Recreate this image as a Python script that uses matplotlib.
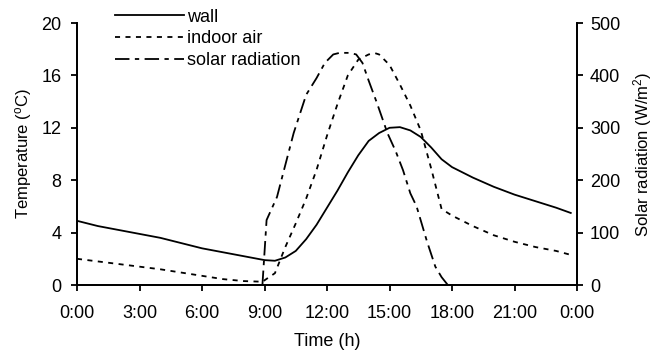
import matplotlib
matplotlib.use("Agg")
import matplotlib.pyplot as plt
from matplotlib.lines import Line2D

plt.rcParams["font.family"] = ["Liberation Sans", "DejaVu Sans"]
plt.rcParams["mathtext.fontset"] = "custom"
plt.rcParams["mathtext.rm"] = "Liberation Sans"
plt.rcParams["mathtext.it"] = "Liberation Sans"

# hours of day and readings
wall_t = [0, 1, 2, 3, 4, 5, 6, 7, 8, 9, 9.5, 10, 10.5, 11, 11.5, 12, 12.5, 13,
          13.5, 14, 14.5, 15, 15.5, 16, 16.5, 17, 17.5, 18, 19, 20, 21, 22, 23, 23.7]
wall_temp = [4.9, 4.5, 4.2, 3.9, 3.6, 3.2, 2.8, 2.5, 2.2, 1.9, 1.85, 2.1, 2.6, 3.5,
             4.6, 5.9, 7.2, 8.6, 9.9, 11.0, 11.6, 12.0, 12.05, 11.8, 11.3, 10.5,
             9.6, 9.0, 8.2, 7.5, 6.9, 6.4, 5.9, 5.5]

air_t = [0, 1, 2, 3, 4, 5, 6, 7, 8, 8.9, 9.5, 10, 10.5, 11, 11.5, 12, 12.5, 13,
         13.5, 14, 14.3, 14.5, 15, 15.5, 16, 16.5, 17, 17.5, 18, 19, 20, 21, 22, 23, 23.7]
air_temp = [2.0, 1.8, 1.6, 1.4, 1.2, 0.95, 0.7, 0.45, 0.3, 0.25, 0.9, 2.9, 4.7, 6.6,
            8.8, 11.4, 13.8, 16.0, 17.2, 17.6, 17.7, 17.6, 16.8, 15.3, 13.7, 11.8,
            8.9, 5.8, 5.3, 4.5, 3.8, 3.3, 2.9, 2.6, 2.3]

sun_t = [8.9, 9.1, 9.6, 9.9, 10.4, 11.0, 11.5, 11.9, 12.3, 12.6, 13.1, 13.4, 13.7,
         14.0, 14.4, 14.9, 15.3, 15.65, 16.0, 16.3, 16.8, 17.2, 17.5, 17.8]
sun_rad = [0, 124, 168, 214, 290, 363, 395, 424, 440, 443, 443, 440, 424, 390,
           347, 290, 255, 219, 175, 150, 83, 35, 15, 0]

xticks = [0, 3, 6, 9, 12, 15, 18, 21, 24]
xlabels = ["0:00", "3:00", "6:00", "9:00", "12:00", "15:00", "18:00", "21:00", "0:00"]

fs = 13
fig = plt.figure(figsize=(6.55, 3.52), dpi=100)
ax = fig.add_axes([77 / 655, 1 - 285 / 352, 500 / 655, 262 / 352])
ax2 = ax.twinx()

lw = 1.3
dot = (0, (2.8, 3))
dashdot = (0, (8, 3, 2.4, 3))
ax.plot(wall_t, wall_temp, color="black", lw=lw)
ax.plot(air_t, air_temp, color="black", lw=lw, linestyle=dot)
ax2.plot(sun_t, sun_rad, color="black", lw=lw, linestyle=dashdot)

ax.set_xlim(0, 24)
ax.set_ylim(0, 20)
ax2.set_ylim(0, 500)
ax.set_xticks(xticks)
ax.set_xticklabels(xlabels)
ax.set_yticks(range(0, 21, 4))
ax2.set_yticks(range(0, 501, 100))

for a in (ax, ax2):
    a.spines["top"].set_visible(False)
    for s in a.spines.values():
        s.set_linewidth(1.3)
    a.tick_params(direction="out", length=4.3, width=1.3, labelsize=fs)
ax.tick_params(axis="x", pad=10)
ax.tick_params(axis="y", pad=7)
ax2.tick_params(axis="y", pad=5)

ax.set_xlabel("Time (h)", fontsize=fs, labelpad=8)
ax.set_ylabel(r"Temperature ($^\mathrm{o}$C)", fontsize=12, labelpad=5)
ax2.set_ylabel(r"Solar radiation (W/m$^2$)", fontsize=12, labelpad=8)

handles = [
    Line2D([], [], color="black", lw=lw),
    Line2D([], [], color="black", lw=lw, linestyle=dot),
    Line2D([], [], color="black", lw=lw, linestyle=dashdot),
]
ax.legend(handles, ["wall", "indoor air", "solar radiation"], loc="upper left",
          bbox_to_anchor=(0.076, 1.055), frameon=False, fontsize=fs,
          handlelength=3.8, handletextpad=0.17, labelspacing=0.26,
          borderaxespad=0, borderpad=0)

fig.savefig("out.png", dpi=100)
